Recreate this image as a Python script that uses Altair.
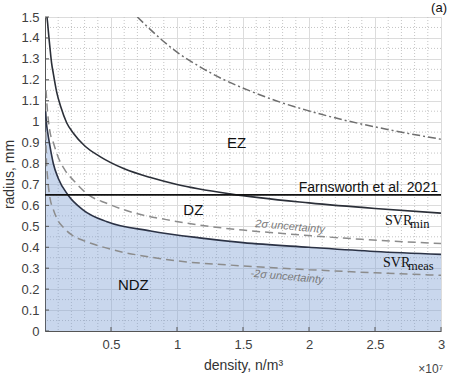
import altair as alt
import pandas as pd

# ---- data (density in units of 1e7 n/m^3, radius in mm) ----
svr_meas_x = [0.005, 0.01, 0.02, 0.033, 0.05, 0.063, 0.1, 0.174, 0.29, 0.47, 0.8, 1.17, 1.5, 2.0, 2.5, 3.0]
svr_meas_r = [1.05, 1.0, 0.95, 0.90, 0.84, 0.80, 0.73, 0.65, 0.578, 0.522, 0.478, 0.445, 0.422, 0.40, 0.38, 0.366]

svr_min_x = [0.015, 0.02, 0.03, 0.038, 0.05, 0.063, 0.089, 0.12, 0.164, 0.215, 0.3, 0.42, 0.6, 0.8, 1.0, 1.4, 2.0, 2.5, 3.0]
svr_min_r = [1.5, 1.47, 1.40, 1.35, 1.28, 1.23, 1.14, 1.07, 0.995, 0.945, 0.885, 0.832, 0.775, 0.733, 0.70, 0.655, 0.612, 0.585, 0.563]

plus2s_x = [0.008, 0.015, 0.025, 0.038, 0.063, 0.1, 0.15, 0.215, 0.33, 0.467, 0.7, 0.92, 1.17, 1.5, 1.8, 2.4, 3.0]
plus2s_r = [1.15, 1.08, 1.01, 0.95, 0.90, 0.83, 0.77, 0.72, 0.65, 0.61, 0.56, 0.532, 0.506, 0.482, 0.466, 0.438, 0.418]

minus2s_x = [0.005, 0.01, 0.02, 0.038, 0.063, 0.1, 0.139, 0.2, 0.3, 0.417, 0.6, 0.77, 1.0, 1.4, 2.0, 2.5, 3.0]
minus2s_r = [0.95, 0.83, 0.73, 0.635, 0.58, 0.525, 0.495, 0.46, 0.43, 0.405, 0.375, 0.356, 0.335, 0.315, 0.293, 0.278, 0.266]

dashdot_x = [0.70, 0.795, 1.0, 1.174, 1.35, 1.553, 1.75, 1.98, 2.25, 2.5, 2.75, 3.0]
dashdot_r = [1.5, 1.442, 1.332, 1.262, 1.202, 1.147, 1.10, 1.055, 1.01, 0.975, 0.944, 0.916]

farnsworth_x = [0.0, 3.0]
farnsworth_r = [0.65, 0.65]

x_ticks = [0.5, 1, 1.5, 2, 2.5, 3]
y_ticks = [0, 0.1, 0.2, 0.3, 0.4, 0.5, 0.6, 0.7, 0.8, 0.9, 1, 1.1, 1.2, 1.3, 1.4, 1.5]
x_minor = [round(i * 0.1, 2) for i in range(1, 30) if i % 5 != 0]
y_minor = [round(i * 0.05, 3) for i in range(1, 30) if i % 2 != 0]

zone_labels = ["EZ", "DZ", "NDZ"]
zone_x = [1.452, 1.124, 0.669]
zone_r = [0.897, 0.578, 0.22]

unc_labels = ["2σ uncertainty", "-2σ uncertainty"]
unc_x = [1.856, 1.833]
unc_r = [0.497, 0.258]

svr_names = ["min", "meas"]
svr_x = [2.576, 2.561]
svr_r = [0.506, 0.307]

W, H = 396, 314
FONT = "Liberation Sans"
SERIF = "Liberation Serif"

xs = alt.Scale(domain=[0, 3], nice=False)
ys = alt.Scale(domain=[0, 1.5], nice=False)

XAXIS = alt.Axis(values=x_ticks, title="density, n/m³", grid=True, ticks=False,
                 labelPadding=7, titlePadding=7, format="~g", titleFontSize=14,
                 labelOverlap=False, labelFlush=False)
YAXIS = alt.Axis(values=y_ticks, title="radius, mm", grid=True, ticks=False,
                 labelPadding=6, titlePadding=4, format="~g", titleFontSize=14,
                 labelOverlap=False, labelFlush=False)


def XE():
    return alt.X("x:Q", scale=xs, axis=XAXIS)


def YE():
    return alt.Y("r:Q", scale=ys, axis=YAXIS)


def df(x, r):
    return pd.DataFrame({"x": x, "r": r})


minor_v = alt.Chart(pd.DataFrame({"x": x_minor})).mark_rule(
    color="#c4c4c4", strokeDash=[1, 2], strokeWidth=1).encode(x=XE())
minor_h = alt.Chart(pd.DataFrame({"r": y_minor})).mark_rule(
    color="#c4c4c4", strokeDash=[1, 2], strokeWidth=1).encode(y=YE())

area = alt.Chart(df(svr_meas_x, svr_meas_r)).mark_area(
    color="#7f9fd4", opacity=0.42, clip=True, interpolate="monotone").encode(
    x=XE(), y=YE(), y2=alt.datum(0))


def line(x, r, color, width, dash=None):
    kw = dict(color=color, strokeWidth=width, clip=True, interpolate="monotone")
    if dash:
        kw["strokeDash"] = dash
    return alt.Chart(df(x, r)).mark_line(**kw).encode(x=XE(), y=YE())


plus = line(plus2s_x, plus2s_r, "#8c8c8c", 1.5, [8, 5])
minus = line(minus2s_x, minus2s_r, "#8c8c8c", 1.5, [8, 5])
meas = line(svr_meas_x, svr_meas_r, "#2b3245", 1.6)
smin = line(svr_min_x, svr_min_r, "#2b2f38", 1.6)
dd = line(dashdot_x, dashdot_r, "#6e6e6e", 1.5, [8, 3, 2, 3])
farn = alt.Chart(df(farnsworth_x, farnsworth_r)).mark_line(
    color="#111111", strokeWidth=1.8).encode(x=XE(), y=YE())

zones = alt.Chart(pd.DataFrame({"t": zone_labels, "x": zone_x, "r": zone_r})).mark_text(
    font=FONT, fontSize=15, color="#111111", baseline="middle", align="center").encode(
    x=XE(), y=YE(), text="t:N")

unc = alt.Chart(pd.DataFrame({"t": unc_labels, "x": unc_x, "r": unc_r})).mark_text(
    font=FONT, fontSize=11, fontStyle="italic", color="#7a7a7a", baseline="middle",
    align="center", angle=5).encode(x=XE(), y=YE(), text="t:N")

farn_txt = alt.Chart(pd.DataFrame({"t": ["Farnsworth et al. 2021"], "x": [2.977], "r": [0.664]})).mark_text(
    font=FONT, fontSize=14, color="#111111", align="right", baseline="alphabetic").encode(
    x=XE(), y=YE(), text="t:N")

svr_df = pd.DataFrame({"t": svr_names, "x": svr_x, "r": svr_r})
svr_main = alt.Chart(svr_df).mark_text(
    font=SERIF, fontSize=14, color="#111111", align="left", baseline="alphabetic").encode(
    x=XE(), y=YE(), text=alt.value("SVR"))
svr_sub = alt.Chart(svr_df).mark_text(
    font=SERIF, fontSize=12.5, color="#111111", align="left", baseline="alphabetic", dx=25, dy=3).encode(
    x=XE(), y=YE(), text="t:N")

xt = alt.Chart(pd.DataFrame({"x": x_ticks})).mark_rule(color="#555555", strokeWidth=1).encode(
    x=XE(), y=alt.value(H), y2=alt.value(H - 4))
yt = alt.Chart(pd.DataFrame({"r": y_ticks})).mark_rule(color="#555555", strokeWidth=1).encode(
    y=YE(), x=alt.value(0), x2=alt.value(4))

exp_txt = alt.Chart(pd.DataFrame({"t": ["×10⁷"]})).mark_text(
    font=FONT, fontSize=12, color="#444444", align="right", baseline="alphabetic").encode(
    x=alt.value(W + 2), y=alt.value(H + 42), text="t:N")

panel_txt = alt.Chart(pd.DataFrame({"t": ["(a)"]})).mark_text(
    font=FONT, fontSize=13, color="#111111", align="right", baseline="top").encode(
    x=alt.value(W + 6), y=alt.value(-15), text="t:N")

chart = alt.layer(
    minor_v, minor_h, area, plus, minus, meas, smin, dd, farn,
    zones, unc, farn_txt, svr_main, svr_sub, xt, yt, exp_txt, panel_txt
).properties(
    width=W, height=H,
    autosize=alt.AutoSizeParams(type="none"),
    padding={"left": 45, "top": 17, "right": 12, "bottom": 44},
).configure_view(stroke=None).configure_axis(
    labelFont=FONT, titleFont=FONT, labelFontSize=13, titleFontSize=14,
    labelColor="#404040", titleColor="#333333", titleFontWeight="normal",
    domainColor="#555555", domainWidth=1, gridColor="#dcdcdc", gridWidth=1,
)

chart.save("out.html", embed_options={"renderer": "svg", "actions": False})
